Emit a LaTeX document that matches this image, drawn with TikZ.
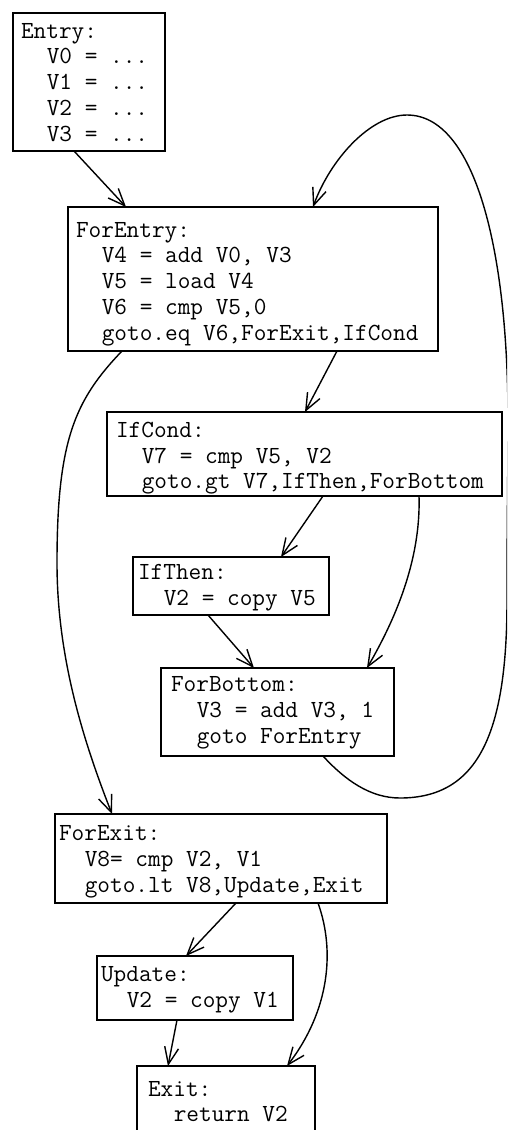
\documentclass[tikz,border=0pt]{standalone}
\usetikzlibrary{arrows.meta,calc}
\newcommand\codeind{\hspace*{25.8pt}}
\begin{document}
\begin{tikzpicture}[x=1pt,y=-1pt,
  blockbox/.style={draw, line width=1.4pt, rectangle, inner sep=0pt, outer sep=0pt, anchor=north west},
  codetext/.style={anchor=north west, inner sep=0pt, outer sep=0pt, align=left,
     font=\fontsize{24.6pt}{25.8pt}\selectfont\ttfamily\frenchspacing},
  flow/.style={line width=1.4pt, -{Straight Barb[length=17pt,width=14pt,line width=1.4pt]}},
]
\useasboundingbox (0,0) rectangle (507,1130);
\fill[white] (0,0) rectangle (507,1130);
\clip (0,0) rectangle (507,1130);

% boxes
\node[blockbox, minimum width=152pt, minimum height=138pt] (entry) at (13,13) {};
\node[blockbox, minimum width=370pt, minimum height=144pt] (forentry) at (68,207) {};
\node[blockbox, minimum width=395pt, minimum height=84pt] (ifcond) at (107,412) {};
\node[blockbox, minimum width=196pt, minimum height=58pt] (ifthen) at (133,557) {};
\node[blockbox, minimum width=233pt, minimum height=88pt] (forbottom) at (161,668) {};
\node[blockbox, minimum width=332pt, minimum height=89pt] (forexit) at (55,814) {};
\node[blockbox, minimum width=196pt, minimum height=64pt] (update) at (97,956) {};
\node[blockbox, minimum width=178pt, minimum height=80pt] (exit) at (137,1066) {};

% texts
\node[codetext] (entryT) at (21,18) {\rule{0pt}{20pt}Entry:\\ \codeind V0 = ...\\ \codeind V1 = ...\\ \codeind V2 = ...\\ \codeind V3 = ...};
\node[codetext] (forentryT) at (76,217) {\rule{0pt}{20pt}ForEntry:\\ \codeind V4 = add V0, V3\\ \codeind V5 = load V4\\ \codeind V6 = cmp V5,0\\ \codeind goto.eq V6,ForExit,IfCond};
\node[codetext] (ifcondT) at (116,417.3) {\rule{0pt}{20pt}IfCond:\\ \codeind V7 = cmp V5, V2\\ \codeind goto.gt V7,IfThen,ForBottom};
\node[codetext] (ifthenT) at (138,559.3) {\rule{0pt}{20pt}IfThen:\\ \codeind V2 = copy V5};
\node[codetext] (forbottomT) at (171,671.7) {\rule{0pt}{20pt}ForBottom:\\ \codeind V3 = add V3, 1\\ \codeind goto ForEntry};
\node[codetext] (forexitT) at (59,820.7) {\rule{0pt}{20pt}ForExit:\\ \codeind V8= cmp V2, V1\\ \codeind goto.lt V8,Update,Exit};
\node[codetext] (updateT) at (101,961.7) {\rule{0pt}{20pt}Update:\\ \codeind V2 = copy V1};
\node[codetext] (exitT) at (148,1076) {\rule{0pt}{20pt}Exit:\\ \codeind return V2};

% straight connectors
\draw[flow] ($(entry.south west)+(61,0)$) -- ($(forentry.north west)+(58,0)$);
\draw[flow] ($(forentry.south west)+(269,0)$) -- ($(ifcond.north west)+(198,0)$);
\draw[flow] ($(ifcond.south west)+(216,0)$) -- ($(ifthen.north west)+(148,0)$);
\draw[flow] ($(ifthen.south west)+(75,0)$) -- ($(forbottom.north west)+(93,0)$);
\draw[flow] ($(forexit.south west)+(181,0)$) -- ($(update.north west)+(89,0)$);
\draw[flow] ($(update.south west)+(80,0)$) -- ($(exit.north west)+(31,0)$);

% curved connectors
\draw[flow] ($(forentry.south west)+(54,0)$) .. controls (75,400) and (57,440) .. (57,563)
   .. controls (57,660) and (85,745) .. ($(forexit.north west)+(57,0)$);
\draw[flow] ($(ifcond.south west)+(312,0)$) .. controls (421,560) and (395,620) .. ($(forbottom.north west)+(206,0)$);
\draw[flow] ($(forexit.south west)+(263,0)$) .. controls (335,950) and (330,1010) .. ($(exit.north west)+(150,0)$);
\draw[flow] ($(forbottom.south west)+(162,0)$) .. controls (345,780) and (370,798) .. (400,798)
   .. controls (480,798) and (507,730) .. (507,600)
   .. controls (507,520) and (508,470) .. (508,420)
   .. controls (508,250) and (475,115) .. (407,115)
   .. controls (370,115) and (330,160) .. ($(forentry.north west)+(245,0)$);
\end{tikzpicture}
\end{document}
